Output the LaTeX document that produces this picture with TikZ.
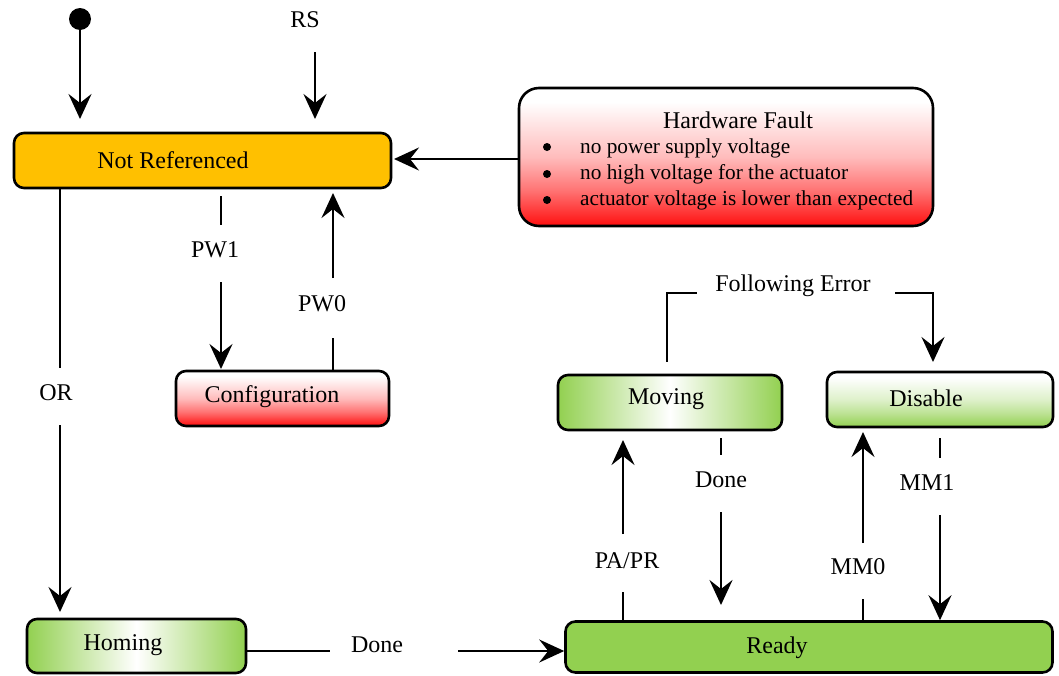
\documentclass[tikz,border=0pt]{standalone}
\usepackage{fontspec}
\setmainfont{Liberation Serif}
\usetikzlibrary{arrows.meta}
\definecolor{orng}{HTML}{FFC000}
\definecolor{grn}{HTML}{92D050}
\definecolor{rd}{HTML}{FF0F0F}
\pgfdeclareverticalshading{wtored}{100bp}{color(0bp)=(rd); color(25bp)=(rd); color(38bp)=(rd!58!white); color(50bp)=(rd!28!white); color(70bp)=(white); color(100bp)=(white)}
\pgfdeclareverticalshading{wtogreen}{100bp}{color(0bp)=(grn); color(25bp)=(grn); color(38bp)=(grn!60!white); color(50bp)=(grn!30!white); color(70bp)=(white); color(100bp)=(white)}
\begin{document}
\begin{tikzpicture}[x=1pt,y=-1pt,
  box/.style={draw=black, line width=2.6pt, rounded corners=10pt, inner sep=0pt},
  lbl/.style={font=\fontsize{24}{28}\selectfont, inner sep=0pt},
  sml/.style={font=\fontsize{21.3}{26}\selectfont, inner sep=0pt},
  bul/.style={circle, fill=black, minimum size=8pt, inner sep=0pt},
  ln/.style={line width=2.5pt},
  arr/.style={line width=2.5pt, -{Stealth[length=25pt,width=23pt,inset=9pt]}},
  hshade/.style={left color=grn, right color=grn, middle color=white},
  redshade/.style={shade, shading=wtored},
  greenshade/.style={shade, shading=wtogreen},
]
\useasboundingbox (0,0) rectangle (1059,675);

% boxes
\node[box, fill=orng, minimum width=377pt, minimum height=55pt] (nr) at (202.5,160.5) {};
\node[lbl] (nrt) at (173,160) {Not Referenced};

\node[box, rounded corners=20pt, redshade, minimum width=414pt, minimum height=138pt] (hw) at (726,157) {};
\node[lbl] (hwt) at (738,120) {Hardware Fault};
\node[bul] (b1) at (547,147) {};
\node[bul] (b2) at (547,174) {};
\node[bul] (b3) at (547,200) {};
\node[sml, anchor=west] (t1) at (580,148) {no power supply voltage};
\node[sml, anchor=west] (t2) at (580,174) {no high voltage for the actuator};
\node[sml, anchor=west] (t3) at (580,200) {actuator voltage is lower than expected};

\node[box, redshade, minimum width=213pt, minimum height=55pt] (cfg) at (282.5,398.5) {};
\node[lbl] (cfgt) at (272,397) {Configuration};

\node[box, hshade, minimum width=219pt, minimum height=54pt] (hom) at (136.5,646) {};
\node[lbl] (homt) at (123,645) {Homing};

\node[box, fill=grn, minimum width=487pt, minimum height=51pt] (rdy) at (809,647) {};
\node[lbl] (rdyt) at (777,648) {Ready};

\node[box, hshade, minimum width=224pt, minimum height=55pt] (mov) at (670,402.5) {};
\node[lbl] (movt) at (666,399) {Moving};

\node[box, greenshade, minimum width=226pt, minimum height=55pt] (dis) at (940,399.5) {};
\node[lbl] (dist) at (926,398) {Disable};

% initial state
\node[circle, fill=black, minimum size=22pt, inner sep=0pt] (init) at (80,19) {};
\coordinate (initend) at (80,119);
\draw[arr] (init.south) -- (initend);

% RS
\node[lbl] (rs) at (305,20) {RS};
\coordinate (rsa) at (315,52);
\coordinate (rsb) at (315,119);
\draw[arr] (rsa) -- (rsb);

% hardware fault -> not referenced
\coordinate (hwend) at (394,159);
\draw[arr] (hw.west |- hwend) -- (hwend);

% PW1
\coordinate (pw1a) at (221,225);
\coordinate (pw1b) at (221,282);
\coordinate (pw1c) at (221,369);
\node[lbl] (pw1) at (215,250) {PW1};
\draw[ln] (nr.south -| pw1a) ++(0,7) -- (pw1a);
\draw[arr] (pw1b) -- (pw1c);

% PW0
\coordinate (pw0a) at (333,338);
\coordinate (pw0b) at (333,278);
\coordinate (pw0c) at (333,193);
\node[lbl] (pw0) at (322,304) {PW0};
\draw[ln] (cfg.north -| pw0a) -- (pw0a);
\draw[arr] (pw0b) -- (pw0c);

% OR
\coordinate (ora) at (60,368);
\coordinate (orb) at (60,425);
\coordinate (orc) at (60,612);
\node[lbl] (or) at (56,393) {OR};
\draw[ln] (nr.south -| ora) -- (ora);
\draw[arr] (orb) -- (orc);

% Homing Done
\coordinate (hda) at (330,651);
\coordinate (hdb) at (458,651);
\node[lbl] (hd) at (377,645) {Done};
\draw[ln] (hom.east |- hda) -- (hda);
\draw[arr] (hdb) -- (rdy.west |- hdb);

% Following Error
\coordinate (fea) at (667,293);
\coordinate (feb) at (697,293);
\coordinate (fec) at (895,293);
\coordinate (fed) at (933,293);
\coordinate (fee) at (933,362);
\node[lbl] (fe) at (793,286) {Following Error};
\draw[ln] (mov.north -| fea) ++(0,-12) -- (fea) -- (feb);
\draw[arr] (fec) -- (fed) -- (fee);

% Moving Done
\coordinate (mda) at (721,455);
\coordinate (mdb) at (721,512);
\coordinate (mdc) at (721,605);
\node[lbl] (md) at (721,480) {Done};
\draw[ln] (mov.south -| mda) ++(0,7) -- (mda);
\draw[arr] (mdb) -- (mdc);

% PA/PR
\coordinate (paa) at (623,592);
\coordinate (pab) at (623,534);
\coordinate (pac) at (623,440);
\node[lbl] (pa) at (627,561) {PA/PR};
\draw[ln] (rdy.north -| paa) -- (paa);
\draw[arr] (pab) -- (pac);

% MM0
\coordinate (m0a) at (863,599);
\coordinate (m0b) at (863,543);
\coordinate (m0c) at (863,432);
\node[lbl] (mm0) at (858,567) {MM0};
\draw[ln] (rdy.north -| m0a) -- (m0a);
\draw[arr] (m0b) -- (m0c);

% MM1
\coordinate (m1a) at (940,458);
\coordinate (m1b) at (940,515);
\node[lbl] (mm1) at (927,483) {MM1};
\draw[ln] (dis.south -| m1a) ++(0,10) -- (m1a);
\draw[arr] (m1b) -- (rdy.north -| m1b);
\end{tikzpicture}
\end{document}
